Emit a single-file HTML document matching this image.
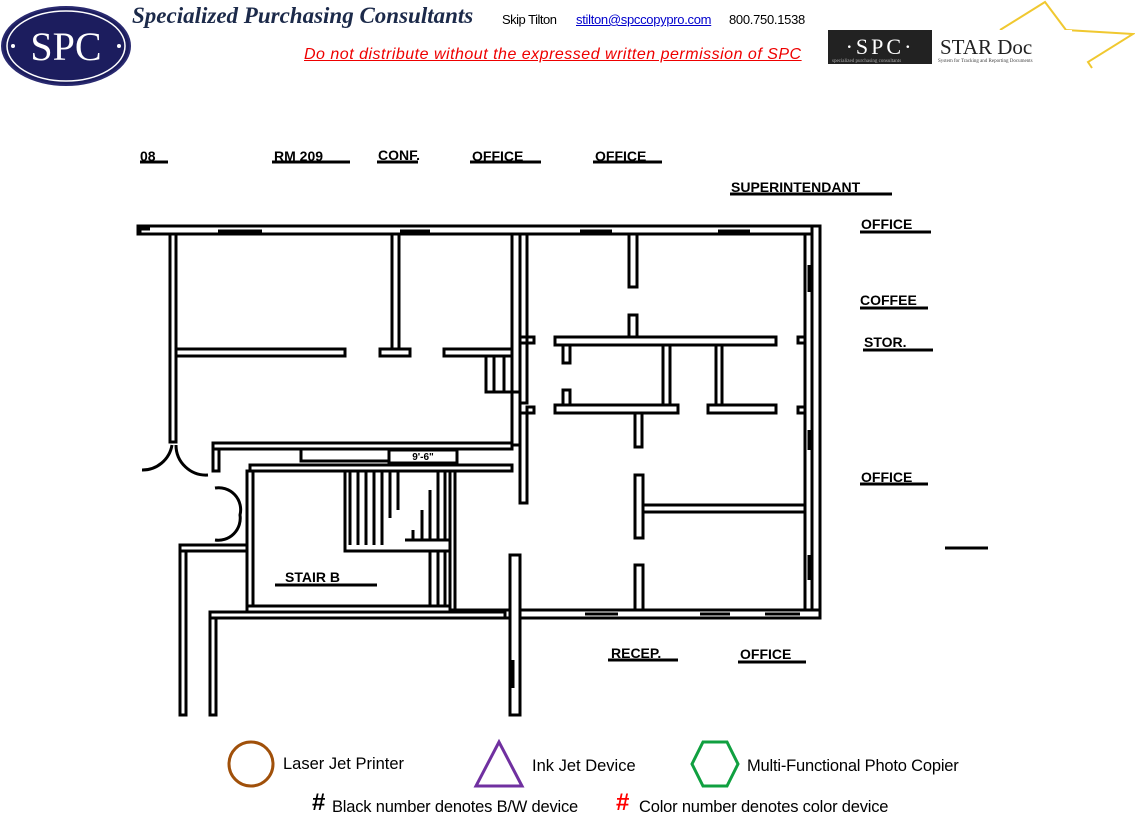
<!DOCTYPE html>
<html><head><meta charset="utf-8"><style>
body{margin:0;background:#fff;width:1135px;height:824px;overflow:hidden;position:relative;font-family:"Liberation Sans",sans-serif}
.a{position:absolute;white-space:nowrap}
</style></head><body>
<svg class="a" style="left:0;top:0" width="1135" height="824" viewBox="0 0 1135 824">
<ellipse cx="66" cy="46" rx="64" ry="39" fill="#1c1d5e" stroke="#2a2a70" stroke-width="2"/>
<ellipse cx="66" cy="46" rx="59" ry="35" fill="none" stroke="#fff" stroke-width="1.5"/>
<text x="66" y="60" font-family="Liberation Serif,serif" font-size="40" fill="#fff" text-anchor="middle">SPC</text>
<circle cx="13" cy="46" r="2" fill="#fff"/><circle cx="119" cy="46" r="2" fill="#fff"/>
<polyline points="1000,30 1045,2 1066,30 1133,34 1088,62 1092,68" fill="none" stroke="#f0c830" stroke-width="2"/>
<rect x="828" y="30" width="104" height="34" fill="#222"/>
<text x="880" y="54" font-family="Liberation Serif,serif" font-size="22" fill="#fff" text-anchor="middle" letter-spacing="3">·SPC·</text>
<rect x="932" y="30" width="140" height="34" fill="#fff"/>
<text x="940" y="54" font-family="Liberation Serif,serif" font-size="21" fill="#222">STAR Doc</text>
<text x="938" y="62" font-family="Liberation Serif,serif" font-size="5" fill="#444">System for Tracking and Reporting Documents</text>
<text x="832" y="62" font-family="Liberation Serif,serif" font-size="5" fill="#aaa">specialized purchasing consultants</text>
<g fill="#fff" stroke="#000" stroke-width="3">
<rect x="138" y="226" width="682" height="8"/>
<rect x="812" y="226" width="8" height="392"/>
<rect x="450" y="610" width="370" height="8"/>
<rect x="170" y="234" width="6" height="208"/>
<rect x="176" y="349" width="169" height="7"/>
<rect x="380" y="349" width="30" height="7"/>
<rect x="392" y="234" width="7" height="115"/>
<rect x="444" y="349" width="68" height="7"/>
<rect x="512" y="234" width="8" height="211"/>
<rect x="520" y="234" width="7" height="103"/>
<rect x="520" y="343" width="7" height="60"/>
<rect x="520" y="413" width="7" height="90"/>
<rect x="510" y="555" width="10" height="160"/>
<rect x="213" y="443" width="299" height="6"/>
<rect x="250" y="465" width="262" height="6"/>
<rect x="301" y="449" width="142" height="12"/>
<rect x="389" y="450" width="68" height="13"/>
<rect x="213" y="449" width="6" height="22"/>
<rect x="247" y="471" width="6" height="135"/>
<rect x="247" y="606" width="208" height="6"/>
<rect x="210" y="612" width="295" height="6"/>
<rect x="180" y="545" width="67" height="6"/>
<rect x="180" y="551" width="6" height="164"/>
<rect x="210" y="618" width="6" height="97"/>
<rect x="345" y="471" width="110" height="80"/>
<rect x="450" y="471" width="5" height="139"/>
<rect x="629" y="234" width="8" height="53"/>
<rect x="629" y="315" width="8" height="22"/>
<rect x="555" y="337" width="221" height="8"/>
<rect x="563" y="345" width="7" height="18"/>
<rect x="563" y="390" width="7" height="15"/>
<rect x="555" y="405" width="123" height="8"/>
<rect x="663" y="345" width="7" height="60"/>
<rect x="635" y="413" width="7" height="34"/>
<rect x="716" y="345" width="6" height="60"/>
<rect x="708" y="405" width="68" height="8"/>
<rect x="635" y="475" width="8" height="63"/>
<rect x="643" y="505" width="162" height="7"/>
<rect x="805" y="234" width="7" height="376"/>
<rect x="635" y="565" width="8" height="45"/>
<rect x="527" y="337" width="7" height="6"/>
<rect x="527" y="407" width="7" height="6"/>
<rect x="798" y="337" width="7" height="6"/>
<rect x="798" y="407" width="7" height="6"/>
</g>
<g stroke="#000" stroke-width="3" fill="none">
<path d="M350 471V545M358 471V545M366 471V545M374 471V545M382 471V545M390 471V518M398 471V510"/>
<path d="M405 540H450M413 530V540M422 510V540M430 490V540M438 471V540M445 471V540"/>
<path d="M430 551V606M438 551V606M445 551V606"/>
<path d="M486 357V392H520M494 357V392M504 357V392"/>
<path d="M140 226V234M138 229H150"/>
<path d="M172 445A30 30 0 0 1 142 470M176 445A30 30 0 0 0 208 475"/>
<path d="M215 488A22 22 0 0 1 240 515A22 22 0 0 1 215 540"/>
<path d="M809 265V292M809 430V450M809 555V580M513 660V688"/>
<path d="M218 231H262M400 231H430M580 231H612M718 231H750M585 614H618M700 614H730M765 614H800"/>
<path d="M140 162H168M272 162H350M377 162H418M470 162H541M593 162H662M730 194H892M860 232H931M860 308H928M863 350H933M860 484H928M945 548H988M275 585H377M608 660H678M738 662H806"/>
</g>
<text x="423" y="460" font-size="10" font-weight="bold" text-anchor="middle">9'-6"</text>
</svg>
<div class="a" style="left:132px;top:3px;font-family:'Liberation Serif',serif;font-style:italic;font-weight:bold;font-size:23px;color:#1c2a4a">Specialized Purchasing Consultants</div>
<div class="a" style="left:502px;top:12px;font-size:13px;letter-spacing:-0.5px">Skip Tilton</div>
<div class="a" style="left:576px;top:12px;font-size:13px;color:#00c;text-decoration:underline;letter-spacing:-0.3px">stilton@spccopypro.com</div>
<div class="a" style="left:729px;top:12px;font-size:13px;letter-spacing:-0.3px">800.750.1538</div>
<div class="a" style="left:304px;top:46px;font-size:16px;font-style:italic;color:#e00;text-decoration:underline;letter-spacing:0.5px">Do not distribute without the expressed written permission of SPC</div>
<div style="font-weight:bold;font-size:14px">
<div class="a" style="left:140px;top:148px">08</div>
<div class="a" style="left:274px;top:148px">RM 209</div>
<div class="a" style="left:378px;top:147px">CONF.</div>
<div class="a" style="left:472px;top:148px">OFFICE</div>
<div class="a" style="left:595px;top:148px">OFFICE</div>
<div class="a" style="left:731px;top:179px">SUPERINTENDANT</div>
<div class="a" style="left:861px;top:216px">OFFICE</div>
<div class="a" style="left:860px;top:292px">COFFEE</div>
<div class="a" style="left:864px;top:334px">STOR.</div>
<div class="a" style="left:861px;top:469px">OFFICE</div>
<div class="a" style="left:285px;top:569px">STAIR B</div>
<div class="a" style="left:611px;top:645px">RECEP.</div>
<div class="a" style="left:740px;top:646px">OFFICE</div>
</div>
<svg class="a" style="left:0;top:730px" width="1135" height="94">
<circle cx="251" cy="34" r="22" fill="none" stroke="#a0500a" stroke-width="3"/>
<polygon points="499,12 476,56 522,56" fill="none" stroke="#7030a0" stroke-width="3"/>
<polygon points="703,12 727,12 738,34 727,56 703,56 692,34" fill="none" stroke="#10a040" stroke-width="3"/>
</svg>
<div class="a" style="left:283px;top:755px;font-size:16.5px">Laser Jet Printer</div>
<div class="a" style="left:532px;top:757px;font-size:16.5px">Ink Jet Device</div>
<div class="a" style="left:747px;top:757px;font-size:16.5px;letter-spacing:-0.2px">Multi-Functional Photo Copier</div>
<div class="a" style="left:312px;top:789px;font-size:24px;font-weight:bold">#</div>
<div class="a" style="left:332px;top:798px;font-size:16.5px;letter-spacing:-0.2px">Black number denotes B/W device</div>
<div class="a" style="left:616px;top:789px;font-size:24px;font-weight:bold;color:#f00">#</div>
<div class="a" style="left:639px;top:798px;font-size:16.5px;letter-spacing:-0.2px">Color number denotes color device</div>
</body></html>
